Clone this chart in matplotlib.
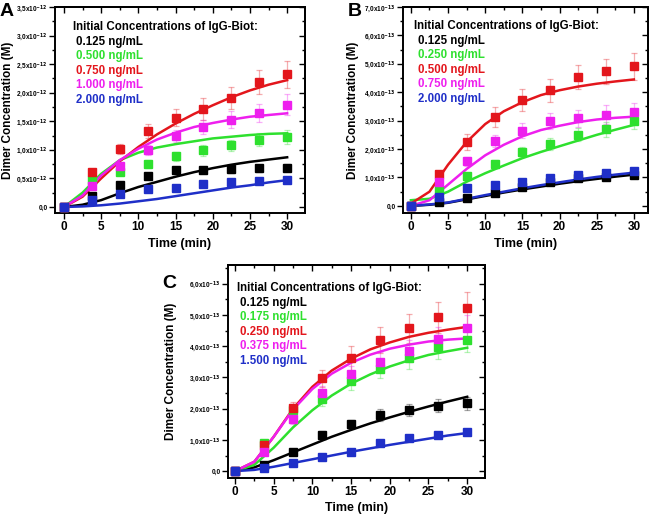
import matplotlib
matplotlib.use("Agg")
import matplotlib.pyplot as plt
from matplotlib.ticker import MultipleLocator, FuncFormatter

plt.rcParams['font.family'] = ['Liberation Sans', 'DejaVu Sans']
plt.rcParams['font.weight'] = 'bold'
plt.rcParams['mathtext.default'] = 'bf'
plt.rcParams['axes.unicode_minus'] = False

# ---------------- data ----------------
t_pts = [0, 3.75, 7.5, 11.25, 15, 18.75, 22.5, 26.25, 30]
t_fit = [0, 2.5, 5, 7.5, 10, 12.5, 15, 17.5, 20, 22.5, 25, 27.5, 30]

colors = ['#000000', '#2ee02e', '#e3161c', '#ee1fee', '#1f2fc8']

# Panel A (units of 1e-12 M)
labels_A = ['0.125 ng/mL', '0.500 ng/mL', '0.750 ng/mL', '1.000 ng/mL', '2.000 ng/mL']
pts_A_black = [0, 0.20, 0.39, 0.54, 0.64, 0.65, 0.66, 0.68, 0.69]
pts_A_green = [0, 0.48, 0.62, 0.76, 0.89, 0.99, 1.08, 1.18, 1.23]
pts_A_red = [0, 0.62, 1.02, 1.33, 1.56, 1.72, 1.91, 2.18, 2.32]
pts_A_magenta = [0, 0.37, 0.72, 1.00, 1.24, 1.40, 1.53, 1.65, 1.79]
pts_A_blue = [0, 0.13, 0.22, 0.32, 0.33, 0.41, 0.44, 0.46, 0.48]
err_A_black = [0, 0.03, 0.04, 0.05, 0.05, 0.05, 0.06, 0.06, 0.06]
err_A_green = [0, 0.04, 0.06, 0.07, 0.08, 0.09, 0.10, 0.11, 0.12]
err_A_red = [0, 0.05, 0.09, 0.13, 0.15, 0.19, 0.19, 0.21, 0.23]
err_A_magenta = [0, 0.04, 0.07, 0.09, 0.11, 0.13, 0.15, 0.16, 0.18]
err_A_blue = [0, 0.02, 0.02, 0.03, 0.03, 0.03, 0.04, 0.04, 0.04]
fit_A_black = [0, 0.04, 0.12, 0.24, 0.35, 0.44, 0.53, 0.61, 0.68, 0.74, 0.79, 0.83, 0.87]
fit_A_green = [0, 0.25, 0.58, 0.82, 0.95, 1.04, 1.10, 1.15, 1.20, 1.23, 1.26, 1.28, 1.29]
fit_A_red = [0, 0.18, 0.50, 0.80, 1.05, 1.27, 1.46, 1.63, 1.78, 1.92, 2.04, 2.14, 2.22]
fit_A_magenta = [0, 0.20, 0.55, 0.82, 1.02, 1.18, 1.30, 1.40, 1.47, 1.53, 1.58, 1.61, 1.64]
fit_A_blue = [0, 0.01, 0.03, 0.06, 0.10, 0.14, 0.19, 0.24, 0.29, 0.34, 0.38, 0.43, 0.47]

# Panel B (units of 1e-13 M)
labels_B = ['0.125 ng/mL', '0.250 ng/mL', '0.500 ng/mL', '0.750 ng/mL', '2.000 ng/mL']
pts_B_black = [0, 0.14, 0.27, 0.47, 0.65, 0.85, 0.98, 1.03, 1.10]
pts_B_green = [0, 0.55, 1.04, 1.49, 1.91, 2.19, 2.51, 2.70, 2.98]
pts_B_red = [0, 1.11, 2.26, 3.13, 3.72, 4.07, 4.54, 4.74, 4.91]
pts_B_magenta = [0, 0.84, 1.57, 2.29, 2.65, 2.99, 3.08, 3.21, 3.29]
pts_B_blue = [0, 0.32, 0.63, 0.75, 0.83, 0.98, 1.10, 1.16, 1.23]
err_B_black = [0, 0.03, 0.04, 0.05, 0.06, 0.07, 0.08, 0.08, 0.09]
err_B_green = [0, 0.06, 0.10, 0.14, 0.18, 0.21, 0.24, 0.26, 0.28]
err_B_red = [0, 0.10, 0.28, 0.34, 0.38, 0.41, 0.43, 0.44, 0.48]
err_B_magenta = [0, 0.08, 0.15, 0.22, 0.25, 0.28, 0.30, 0.33, 0.34]
err_B_blue = [0, 0.04, 0.06, 0.07, 0.08, 0.09, 0.10, 0.10, 0.11]
fit_B_black = [0, 0.04, 0.11, 0.23, 0.35, 0.47, 0.58, 0.68, 0.78, 0.87, 0.95, 1.03, 1.10]
fit_B_green = [0.20, 0.25, 0.50, 0.85, 1.15, 1.42, 1.68, 1.90, 2.10, 2.30, 2.50, 2.68, 2.85]
fit_B_red = [0.08, 0.50, 1.45, 2.25, 2.88, 3.33, 3.65, 3.90, 4.07, 4.20, 4.30, 4.38, 4.45]
fit_B_magenta = [0, 0.20, 0.75, 1.30, 1.78, 2.15, 2.45, 2.67, 2.82, 2.95, 3.04, 3.10, 3.14]
fit_B_blue = [0, 0.05, 0.12, 0.25, 0.38, 0.50, 0.62, 0.73, 0.83, 0.93, 1.02, 1.10, 1.17]

# Panel C (units of 1e-13 M)
labels_C = ['0.125 ng/mL', '0.175 ng/mL', '0.250 ng/mL', '0.375 ng/mL', '1.500 ng/mL']
pts_C_black = [0, 0.20, 0.61, 1.17, 1.50, 1.80, 1.96, 2.10, 2.17]
pts_C_green = [0, 0.91, 1.95, 2.30, 2.87, 3.27, 3.61, 3.96, 4.20]
pts_C_red = [0, 0.85, 2.02, 2.97, 3.61, 4.20, 4.57, 4.92, 5.22]
pts_C_magenta = [0, 0.60, 1.67, 2.49, 3.10, 3.48, 3.86, 4.22, 4.59]
pts_C_blue = [0, 0.09, 0.27, 0.44, 0.61, 0.89, 1.07, 1.17, 1.25]
err_C_black = [0, 0.05, 0.08, 0.12, 0.15, 0.18, 0.20, 0.20, 0.21]
err_C_green = [0, 0.08, 0.18, 0.22, 0.26, 0.30, 0.33, 0.36, 0.40]
err_C_red = [0, 0.10, 0.20, 0.27, 0.40, 0.43, 0.47, 0.51, 0.53]
err_C_magenta = [0, 0.06, 0.15, 0.22, 0.28, 0.32, 0.35, 0.38, 0.42]
err_C_blue = [0, 0.02, 0.03, 0.04, 0.05, 0.06, 0.07, 0.08, 0.09]
fit_C_black = [0, 0.12, 0.35, 0.60, 0.85, 1.10, 1.32, 1.53, 1.72, 1.90, 2.07, 2.23, 2.38]
fit_C_green = [0, 0.20, 0.75, 1.40, 1.95, 2.42, 2.80, 3.10, 3.35, 3.55, 3.72, 3.84, 3.95]
fit_C_red = [0, 0.30, 1.10, 2.00, 2.70, 3.22, 3.60, 3.90, 4.12, 4.30, 4.43, 4.53, 4.62]
fit_C_magenta = [0, 0.30, 1.10, 1.97, 2.63, 3.12, 3.47, 3.73, 3.92, 4.05, 4.15, 4.21, 4.25]
fit_C_blue = [0, 0.04, 0.14, 0.26, 0.38, 0.50, 0.62, 0.73, 0.84, 0.94, 1.04, 1.14, 1.22]

W, H = 658, 522
fig = plt.figure(figsize=(W / 100, H / 100), dpi=100)


def fr(l, t, r, b):
    return [l / W, 1 - b / H, (r - l) / W, (b - t) / H]


def make_panel(rect, xlim, ylim, ymaj, ymin, exp, pts, errs, fits, labels,
               letter, letter_xy, leg_xy, ylabel_x):
    ax = fig.add_axes(fr(*rect))
    for f, c in zip(fits, colors):
        ax.plot(t_fit, f, color=c, lw=1.8, zorder=2)
    for p, e, c in zip(pts, errs, colors):
        ax.errorbar(t_pts, p, yerr=e, fmt='none', ecolor=c, alpha=0.35,
                    elinewidth=0.9, capsize=2.5, capthick=0.9, zorder=1)
        ax.plot(t_pts, p, 's', color=c, ms=5.4, mec=c, zorder=3)
    ax.set_xlim(*xlim)
    ax.set_ylim(*ylim)
    ax.xaxis.set_major_locator(MultipleLocator(5))
    ax.xaxis.set_minor_locator(MultipleLocator(2.5))
    ax.yaxis.set_major_locator(MultipleLocator(ymaj))
    ax.yaxis.set_minor_locator(MultipleLocator(ymin))

    def fmt(v, pos):
        if abs(v) < 1e-9:
            return '0,0'
        s = ('%.1f' % v).replace('.', ',')
        return s + 'x10$^{-%d}$' % exp

    ax.yaxis.set_major_formatter(FuncFormatter(fmt))
    ax.tick_params(which='both', direction='out', width=1.0)
    ax.tick_params(which='major', length=4)
    ax.tick_params(which='minor', length=2.5)
    ax.tick_params(axis='x', labelsize=8.5, pad=2)
    ax.tick_params(axis='y', labelsize=4.7, pad=1.2)
    for lab in ax.get_xticklabels() + ax.get_yticklabels():
        lab.set_fontweight('bold')
    for s in ax.spines.values():
        s.set_linewidth(1.4)
    top = ax.secondary_xaxis('top')
    top.xaxis.set_major_locator(MultipleLocator(5))
    top.xaxis.set_minor_locator(MultipleLocator(2.5))
    top.tick_params(which='both', direction='in', labeltop=False, width=1.0)
    top.tick_params(which='major', length=4)
    top.tick_params(which='minor', length=2.5)
    top.spines['top'].set_linewidth(1.4)
    right = ax.secondary_yaxis('right')
    right.yaxis.set_major_locator(MultipleLocator(ymaj))
    right.yaxis.set_minor_locator(MultipleLocator(ymin))
    right.tick_params(which='both', direction='in', labelright=False, width=1.0)
    right.tick_params(which='major', length=4)
    right.tick_params(which='minor', length=2.5)
    right.spines['right'].set_linewidth(1.4)

    ax.set_xlabel('Time (min)', fontsize=9, fontweight='bold', labelpad=3)
    ax.set_ylabel('Dimer Concentration (M)', fontsize=8.5, fontweight='bold')
    ax.yaxis.set_label_coords(ylabel_x, 0.5)

    fig.text(letter_xy[0] / W, 1 - letter_xy[1] / H, letter, fontsize=14,
             fontweight='bold', ha='center', va='center')
    lx, ly = leg_xy
    fig.text(lx / W, 1 - ly / H, 'Initial Concentrations of IgG-Biot:',
             fontsize=8.3, fontweight='bold', ha='left', va='center')
    for i, (lab, c) in enumerate(zip(labels, colors)):
        fig.text((lx + 3.5) / W, 1 - (ly + 15 + 14.4 * i) / H, lab,
                 fontsize=8.3, fontweight='bold', ha='left', va='center',
                 color=c)
    return ax


axA = make_panel((55, 7, 305, 213), (-1.2, 32.4), (-0.105, 3.5), 0.5, 0.25, 12,
                 [pts_A_black, pts_A_green, pts_A_red, pts_A_magenta, pts_A_blue],
                 [err_A_black, err_A_green, err_A_red, err_A_magenta, err_A_blue],
                 [fit_A_black, fit_A_green, fit_A_red, fit_A_magenta, fit_A_blue],
                 labels_A, 'A', (7, 11), (73, 27), -0.162)

axB = make_panel((403, 7, 648, 213), (-1.06, 31.9), (-0.25, 7.0), 1.0, 0.5, 13,
                 [pts_B_black, pts_B_green, pts_B_red, pts_B_magenta, pts_B_blue],
                 [err_B_black, err_B_green, err_B_red, err_B_magenta, err_B_blue],
                 [fit_B_black, fit_B_green, fit_B_red, fit_B_magenta, fit_B_blue],
                 labels_B, 'B', (355, 12), (414, 26), -0.18)

axC = make_panel((228, 265, 485, 478), (-0.9, 32.3), (-0.22, 6.6), 1.0, 0.5, 13,
                 [pts_C_black, pts_C_green, pts_C_red, pts_C_magenta, pts_C_blue],
                 [err_C_black, err_C_green, err_C_red, err_C_magenta, err_C_blue],
                 [fit_C_black, fit_C_green, fit_C_red, fit_C_magenta, fit_C_blue],
                 labels_C, 'C', (169, 283), (237, 288), -0.2)

fig.savefig('out.png', dpi=100)
